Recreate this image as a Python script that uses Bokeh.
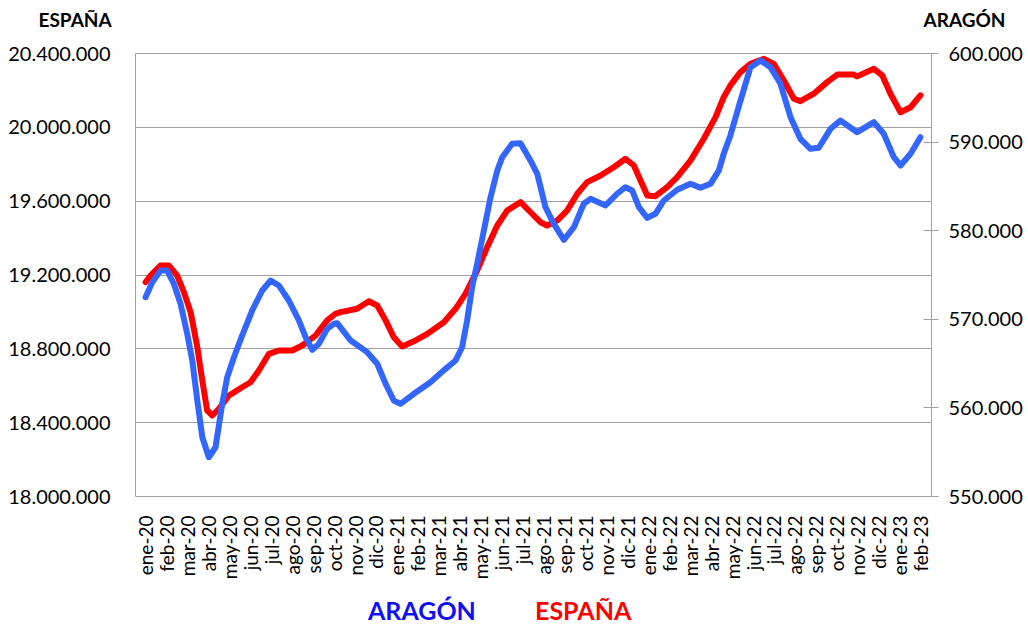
from math import pi
from bokeh.plotting import figure
from bokeh.layouts import column
from bokeh.models import Range1d, LinearAxis, FixedTicker, CustomJSTickFormatter, Label, Div
from bokeh.embed import file_html
from bokeh.resources import INLINE

# ---------------- data ----------------
meses = ["ene-20", "feb-20", "mar-20", "abr-20", "may-20", "jun-20", "jul-20", "ago-20",
         "sep-20", "oct-20", "nov-20", "dic-20", "ene-21", "feb-21", "mar-21", "abr-21",
         "may-21", "jun-21", "jul-21", "ago-21", "sep-21", "oct-21", "nov-21", "dic-21",
         "ene-22", "feb-22", "mar-22", "abr-22", "may-22", "jun-22", "jul-22", "ago-22",
         "sep-22", "oct-22", "nov-22", "dic-22", "ene-23", "feb-23"]

# time position in months since ene-20 (0 = ene-20)
espana_t = [0, 0.24, 0.72, 1.11, 1.51, 1.83, 2.15, 2.47, 2.71, 2.94, 3.18, 3.50, 3.98, 4.61,
            5.01, 5.41, 5.89, 6.36, 7.00, 7.48, 8.11, 8.67, 9.07, 9.31, 10.10, 10.66, 11.06,
            11.46, 11.85, 12.25, 12.81, 13.45, 14.24, 14.80, 15.27, 15.83, 16.31, 16.79,
            17.27, 17.90, 18.38, 18.85, 19.17, 19.65, 20.13, 20.61, 21.08, 21.72, 22.35,
            22.91, 23.31, 23.63, 23.95, 24.34, 24.90, 25.38, 26.01, 26.65, 27.21, 27.60,
            27.92, 28.40, 28.88, 29.52, 29.99, 30.47, 30.95, 31.26, 31.90, 32.54, 33.02,
            33.81, 33.97, 34.77, 35.17, 35.56, 36.04, 36.52, 36.99]
espana = [19161000, 19197000, 19252000, 19252000, 19197000, 19107000, 18999000, 18809000,
          18628000, 18466000, 18439000, 18475000, 18547000, 18592000, 18619000, 18683000,
          18773000, 18791000, 18791000, 18818000, 18872000, 18954000, 18990000, 18999000,
          19017000, 19058000, 19035000, 18954000, 18863000, 18813000, 18841000, 18881000,
          18944000, 19017000, 19098000, 19224000, 19351000, 19468000, 19550000, 19595000,
          19540000, 19486000, 19468000, 19495000, 19550000, 19640000, 19703000, 19739000,
          19784000, 19830000, 19793000, 19712000, 19631000, 19627000, 19676000, 19730000,
          19820000, 19938000, 20055000, 20163000, 20227000, 20299000, 20344000, 20371000,
          20344000, 20254000, 20155000, 20142000, 20182000, 20245000, 20286000, 20286000,
          20276000, 20317000, 20281000, 20182000, 20082000, 20109000, 20173000]

aragon_t = [0, 0.32, 0.72, 1.03, 1.35, 1.67, 1.99, 2.23, 2.47, 2.71, 3.02, 3.34, 3.66, 3.90,
            4.22, 4.61, 5.09, 5.57, 5.97, 6.36, 6.84, 7.32, 7.64, 7.96, 8.27, 8.67, 8.99,
            9.15, 9.79, 10.58, 11.06, 11.46, 11.85, 12.17, 12.81, 13.60, 14.32, 14.80, 15.11,
            15.35, 15.59, 15.83, 16.15, 16.47, 16.79, 17.03, 17.50, 17.90, 18.38, 18.70,
            19.09, 19.49, 19.97, 20.45, 20.92, 21.24, 21.96, 22.51, 22.91, 23.23, 23.55,
            23.95, 24.34, 24.74, 25.38, 26.01, 26.49, 26.97, 27.37, 27.60, 27.92, 28.40,
            28.88, 29.36, 29.83, 30.31, 30.79, 31.26, 31.74, 32.14, 32.70, 33.17, 33.97,
            34.77, 35.24, 35.72, 36.04, 36.52, 36.99]
aragon = [572500, 574190, 575510, 575510, 574010, 571750, 568360, 565350, 560840, 556690,
          554430, 555560, 560460, 563470, 565720, 568170, 570990, 573250, 574380, 573820,
          572120, 569870, 567980, 566560, 567230, 568930, 569490, 569560, 567610, 566290,
          564980, 562720, 560840, 560460, 561590, 562900, 564410, 565350, 566850, 569870,
          573620, 576260, 580020, 583780, 586800, 588300, 589810, 589880, 587900, 586420,
          582650, 580780, 578970, 580400, 583040, 583600, 582850, 584170, 584910, 584540,
          582650, 581450, 581910, 583410, 584620, 585290, 584840, 585290, 586800, 588680,
          590750, 594690, 598460, 599210, 598460, 596580, 592810, 590370, 589240, 589360,
          591500, 592440, 591120, 592250, 590940, 588300, 587360, 588680, 590550]

left_ticks = [18000000, 18400000, 18800000, 19200000, 19600000, 20000000, 20400000]
right_ticks = [550000, 560000, 570000, 580000, 590000, 600000]
series_names = ["ARAGÓN", "ESPAÑA"]

# ---------------- figure ----------------
FONT = "Lato"
GRAY = "#A0A0A0"
RED = "#FF0000"
BLUE = "#3366FF"
LEG_BLUE = "#1010F8"

p = figure(width=1028, height=596, output_backend="svg", toolbar_location=None,
           x_range=Range1d(-0.48, 37.52), y_range=Range1d(18000000, 20400000),
           min_border_left=135, min_border_right=97, min_border_top=53, min_border_bottom=100)
p.extra_y_ranges = {"aragon": Range1d(550000, 600000)}

p.outline_line_color = GRAY
p.outline_line_width = 1
p.background_fill_color = "white"
p.border_fill_color = "white"
p.xgrid.grid_line_color = None
p.ygrid.grid_line_color = GRAY
p.ygrid.grid_line_width = 1

thousands = CustomJSTickFormatter(code="""
    return Math.round(tick).toString().replace(/\\B(?=(\\d{3})+(?!\\d))/g, ".");
""")

# left axis
yax = p.yaxis[0]
yax.ticker = FixedTicker(ticks=left_ticks)
yax.formatter = thousands
yax.axis_line_color = None
yax.major_tick_line_color = None
yax.minor_tick_line_color = None
yax.major_label_text_font = FONT
yax.major_label_text_font_size = "20px"
yax.major_label_text_color = "black"
yax.major_label_standoff = 19

# right axis
rax = LinearAxis(y_range_name="aragon", ticker=FixedTicker(ticks=right_ticks),
                 formatter=thousands)
rax.axis_line_color = GRAY
rax.major_tick_line_color = GRAY
rax.major_tick_in = 8
rax.major_tick_out = 7
rax.minor_tick_line_color = None
rax.major_label_text_font = FONT
rax.major_label_text_font_size = "20px"
rax.major_label_text_color = "black"
rax.major_label_standoff = 10
p.add_layout(rax, "right")

# bottom axis
xax = p.xaxis[0]
xax.ticker = FixedTicker(ticks=list(range(len(meses))))
xax.major_label_overrides = {i: m for i, m in enumerate(meses)}
xax.major_label_orientation = pi / 2
xax.axis_line_color = None
xax.major_tick_line_color = None
xax.minor_tick_line_color = None
xax.major_label_text_font = FONT
xax.major_label_text_font_size = "19px"
xax.major_label_text_color = "black"
xax.major_label_standoff = 13

# lines
p.line(espana_t, espana, line_color=RED, line_width=6, line_join="round", line_cap="round")
p.line(aragon_t, aragon, line_color=BLUE, line_width=6, line_join="round", line_cap="round",
       y_range_name="aragon")

# axis titles (in the top side panel so they are not clipped by the frame)
def lab(txt, x, y):
    p.add_layout(Label(x=x, y=y, x_units="screen", y_units="screen", text=txt,
                       text_font=FONT, text_font_style="bold", text_font_size="19px",
                       text_color="black", text_baseline="alphabetic", text_align="left"),
                 "above")

lab("ESPAÑA", -97, 34)
lab("ARAGÓN", 788, 11)

# legend (coloured series names under the chart)
legend_html = (
    '<div style="position:relative;width:1028px;height:28px;font-family:Lato;'
    'font-size:25px;font-weight:bold;line-height:25px;">'
    f'<span style="position:absolute;left:368px;top:2px;color:{LEG_BLUE};">{series_names[0]}</span>'
    f'<span style="position:absolute;left:535px;top:2px;color:{RED};">{series_names[1]}</span>'
    '</div>'
)
legend_div = Div(text=legend_html, width=1028, height=28, margin=0)

layout = column(p, legend_div, spacing=0)
open("out.html", "w").write(file_html(layout, INLINE))
